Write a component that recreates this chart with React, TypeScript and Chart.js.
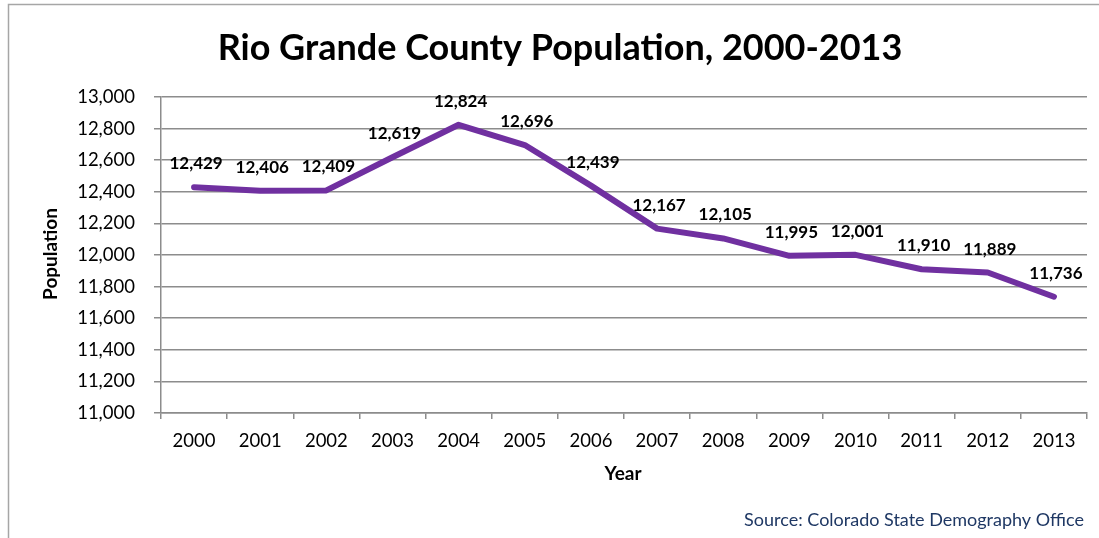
import React, { useEffect, useRef } from "react";
import { Chart, registerables } from "chart.js";

Chart.register(...registerables);

const years = ["2000","2001","2002","2003","2004","2005","2006","2007","2008","2009","2010","2011","2012","2013"];
const population = [12429,12406,12409,12619,12824,12696,12439,12167,12105,11995,12001,11910,11889,11736];
const yMin = 11000;
const yMax = 13000;
const yStep = 200;
const titleText = "Rio Grande County Population, 2000-2013";
const xTitle = "Year";
const yTitle = "Population";
const sourceText = "Source: Colorado State Demography Office";

const FONT = "Lato, 'Open Sans', sans-serif";
const fmt = (v: number) => v.toLocaleString("en-US");

const textPlugin = {
  id: "texts",
  afterDraw(chart: any) {
    const ctx = chart.ctx;
    ctx.save();
    // frame
    ctx.strokeStyle = "#a6a6a6";
    ctx.lineWidth = 1.5;
    ctx.strokeRect(8.5, 4.5, 1200, 700);
    // title
    ctx.fillStyle = "#000";
    ctx.textAlign = "center";
    ctx.textBaseline = "alphabetic";
    ctx.font = `bold 36px ${FONT}`;
    ctx.fillText(titleText, 560, 60);
    // x title
    ctx.font = `bold 19px ${FONT}`;
    ctx.fillText(xTitle, 623, 480);
    // y title
    ctx.save();
    ctx.translate(57, 254);
    ctx.rotate(-Math.PI / 2);
    ctx.fillText(yTitle, 0, 0);
    ctx.restore();
    // data labels
    const meta = chart.getDatasetMeta(0);
    ctx.font = `bold 17px ${FONT}`;
    meta.data.forEach((pt: any, i: number) => {
      ctx.fillText(fmt(population[i]), pt.x + 2, pt.y - 18);
    });
    // source
    ctx.textAlign = "right";
    ctx.font = `18px ${FONT}`;
    ctx.fillStyle = "#1f3864";
    ctx.fillText(sourceText, 1084, 526);
    ctx.restore();
  },
};

export default function App() {
  const ref = useRef<HTMLCanvasElement>(null);
  useEffect(() => {
    if (!ref.current) return;
    const chart = new Chart(ref.current, {
      type: "line",
      data: {
        labels: years,
        datasets: [
          {
            data: population,
            borderColor: "#7030a0",
            backgroundColor: "#7030a0",
            borderWidth: 6,
            pointRadius: 0,
            tension: 0,
            borderCapStyle: "round",
            borderJoinStyle: "round",
          },
        ],
      },
      options: {
        animation: false,
        responsive: false,
        maintainAspectRatio: false,
        layout: { padding: { top: 97, right: 12, bottom: 0, left: 0 } },
        plugins: { legend: { display: false }, tooltip: { enabled: false }, title: { display: false } },
        scales: {
          x: {
            offset: true,
            grid: {
              offset: true,
              drawOnChartArea: false,
              drawTicks: true,
              tickLength: 6,
              color: "#8c8c8c",
              lineWidth: 1.5,
            },
            border: { display: true, color: "#8c8c8c", width: 1.5 },
            ticks: {
              color: "#000",
              font: { family: FONT, size: 18.5 },
              padding: 11,
              maxRotation: 0,
              autoSkip: false,
            },
            afterFit: (s: any) => {
              s.height = 538 - 413;
            },
          },
          y: {
            min: yMin,
            max: yMax,
            grid: { color: "#8c8c8c", lineWidth: 1.5, tickLength: 7 },
            border: { display: true, color: "#8c8c8c", width: 1.5 },
            ticks: {
              stepSize: yStep,
              color: "#000",
              font: { family: FONT, size: 18.5 },
              padding: 19,
              callback: (v: any) => fmt(Number(v)),
            },
            afterFit: (s: any) => {
              s.width = 161;
            },
          },
        },
      },
      plugins: [textPlugin],
    });
    return () => chart.destroy();
  }, []);
  return (
    <div style={{ position: "fixed", left: 0, top: 0, width: 1099, height: 538, overflow: "hidden", background: "#fff" }}>
      <canvas ref={ref} width={1099} height={538} style={{ display: "block" }} />
    </div>
  );
}
